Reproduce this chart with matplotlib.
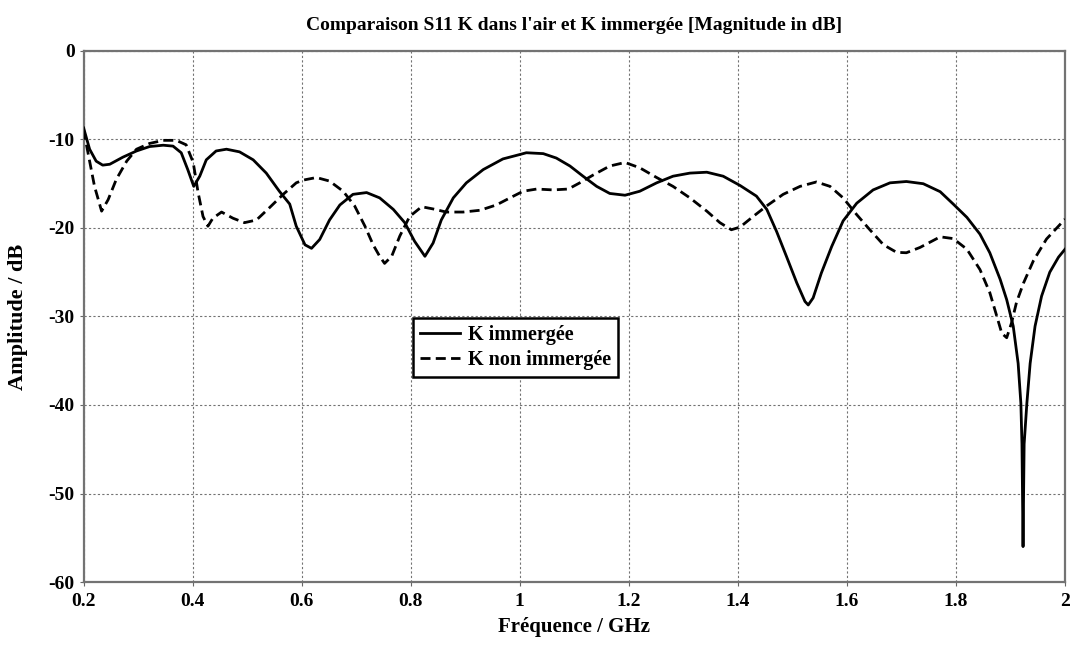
import numpy as np
import matplotlib.pyplot as plt

plt.rcParams["font.family"] = ["Liberation Serif", "DejaVu Serif"]
plt.rcParams["font.weight"] = "bold"
plt.rcParams["axes.unicode_minus"] = False

# K immergée (solid)
freq_imm = [0.2, 0.211, 0.223, 0.235, 0.248, 0.272, 0.297, 0.321, 0.346, 0.364,
            0.379, 0.391, 0.402, 0.413, 0.425, 0.443, 0.462, 0.486, 0.511, 0.535,
            0.559, 0.578, 0.590, 0.606, 0.618, 0.633, 0.651, 0.670, 0.694, 0.719,
            0.743, 0.768, 0.789, 0.807, 0.826, 0.841, 0.856, 0.878, 0.902, 0.933,
            0.969, 1.0, 1.012, 1.043, 1.067, 1.092, 1.116, 1.141, 1.165, 1.193,
            1.22, 1.251, 1.281, 1.312, 1.343, 1.373, 1.404, 1.434, 1.453, 1.471,
            1.489, 1.508, 1.523, 1.529, 1.538, 1.553, 1.572, 1.593, 1.618, 1.648,
            1.679, 1.709, 1.74, 1.771, 1.795, 1.82, 1.844, 1.862, 1.881, 1.893,
            1.905, 1.914, 1.919, 1.921, 1.922, 1.923, 1.924, 1.925, 1.93, 1.936,
            1.945, 1.957, 1.972, 1.988, 2.0]
s11_imm = [-8.7, -11.1, -12.45, -12.9, -12.8, -12.0, -11.3, -10.8, -10.65, -10.75,
           -11.5, -13.4, -15.3, -14.15, -12.3, -11.3, -11.1, -11.4, -12.3, -13.8,
           -15.85, -17.3, -19.8, -21.9, -22.3, -21.3, -19.1, -17.4, -16.2, -16.0,
           -16.6, -17.9, -19.4, -21.5, -23.2, -21.7, -19.1, -16.6, -14.9, -13.4,
           -12.2, -11.7, -11.5, -11.6, -12.1, -13.0, -14.15, -15.3, -16.1, -16.3,
           -15.85, -14.9, -14.15, -13.8, -13.7, -14.15, -15.2, -16.4, -17.9, -20.4,
           -23.2, -26.2, -28.3, -28.7, -27.9, -25.1, -22.1, -19.2, -17.2, -15.7,
           -14.9, -14.75, -15.0, -15.9, -17.3, -18.8, -20.7, -22.8, -25.8, -28.1,
           -31.1, -35.3, -39.8, -44.4, -50.0, -56.0, -50.0, -44.4, -39.8, -35.3,
           -31.1, -27.7, -25.0, -23.3, -22.4]

# K non immergée (dashed)
freq_air = [0.2, 0.208, 0.22, 0.233, 0.245, 0.26, 0.279, 0.297, 0.321, 0.346,
            0.37, 0.388, 0.401, 0.41, 0.419, 0.428, 0.437, 0.453, 0.474, 0.495,
            0.517, 0.541, 0.566, 0.59, 0.602, 0.627, 0.651, 0.676, 0.697, 0.716,
            0.731, 0.743, 0.752, 0.765, 0.78, 0.798, 0.82, 0.841, 0.865, 0.896,
            0.927, 0.957, 0.982, 1.006, 1.031, 1.061, 1.089, 1.11, 1.135, 1.165,
            1.193, 1.22, 1.251, 1.281, 1.312, 1.343, 1.367, 1.388, 1.404, 1.428,
            1.453, 1.483, 1.514, 1.544, 1.569, 1.593, 1.618, 1.642, 1.667, 1.691,
            1.709, 1.734, 1.771, 1.795, 1.82, 1.844, 1.862, 1.875, 1.884, 1.893,
            1.902, 1.911, 1.924, 1.942, 1.966, 2.0]
s11_air = [-8.9, -11.5, -15.3, -18.1, -16.8, -14.5, -12.45, -11.1, -10.45, -10.1,
           -10.1, -10.6, -12.6, -16.0, -18.7, -19.8, -18.9, -18.2, -18.9, -19.4,
           -19.1, -17.7, -16.2, -14.9, -14.6, -14.3, -14.7, -15.85, -17.5, -19.8,
           -21.9, -23.2, -24.0, -23.2, -20.9, -18.7, -17.6, -17.85, -18.2, -18.2,
           -18.0, -17.4, -16.6, -15.85, -15.6, -15.7, -15.6, -14.9, -14.0, -13.0,
           -12.6, -13.2, -14.3, -15.3, -16.6, -18.1, -19.4, -20.2, -19.9, -18.7,
           -17.5, -16.2, -15.3, -14.8, -15.3, -16.6, -18.5, -20.2, -21.9, -22.75,
           -22.8, -22.2, -21.0, -21.2, -22.4, -24.7, -27.3, -30.0, -31.9, -32.4,
           -30.7, -28.4, -26.2, -23.7, -21.25, -19.0]

xticks = [0.2, 0.4, 0.6, 0.8, 1.0, 1.2, 1.4, 1.6, 1.8, 2.0]
xticklabels = ["0.2", "0.4", "0.6", "0.8", "1", "1.2", "1.4", "1.6", "1.8", "2"]
yticks = [0, -10, -20, -30, -40, -50, -60]

fig = plt.figure(figsize=(10.72, 6.5), dpi=100)
ax = fig.add_axes([0.078, 0.1046, 0.9155, 0.817])

ax.plot(freq_imm, s11_imm, color="black", linewidth=2.0, label="K immergée",
        solid_joinstyle="round", zorder=3)
ax.plot(freq_air, s11_air, color="black", linewidth=2.0, linestyle=(0, (3.6, 1.9)),
        label="K non immergée", zorder=3)

ax.set_xlim(0.2, 2.0)
ax.set_ylim(-60, 0)
ax.set_xticks(xticks)
ax.set_xticklabels(xticklabels)
ax.set_yticks(yticks)
ax.tick_params(axis="both", labelsize=14, direction="out", length=3, color="0.4")
ax.tick_params(axis="x", pad=5)
ax.grid(True, linestyle=(0, (2, 2)), color="0.45", linewidth=0.8, zorder=0)
for sp in ax.spines.values():
    sp.set_color("0.45")
    sp.set_linewidth(1.6)

ax.set_title("Comparaison S11 K dans l'air et K immergée [Magnitude in dB]",
             fontsize=14, fontweight="bold", pad=15)
ax.set_xlabel("Fréquence / GHz", fontsize=15, fontweight="bold", labelpad=5)
ax.set_ylabel("Amplitude / dB", fontsize=16, fontweight="bold")
ax.yaxis.set_label_coords(-0.057, 0.5)

leg = ax.legend(loc="upper left", bbox_to_anchor=(0.385, 0.511),
                bbox_transform=fig.transFigure, borderaxespad=0, fancybox=False,
                framealpha=1, edgecolor="black", fontsize=14.5, handlelength=2.0,
                handletextpad=0.4, borderpad=0.35, labelspacing=0.25)
leg.get_frame().set_linewidth(1.8)

plt.savefig("out.png", dpi=100)
